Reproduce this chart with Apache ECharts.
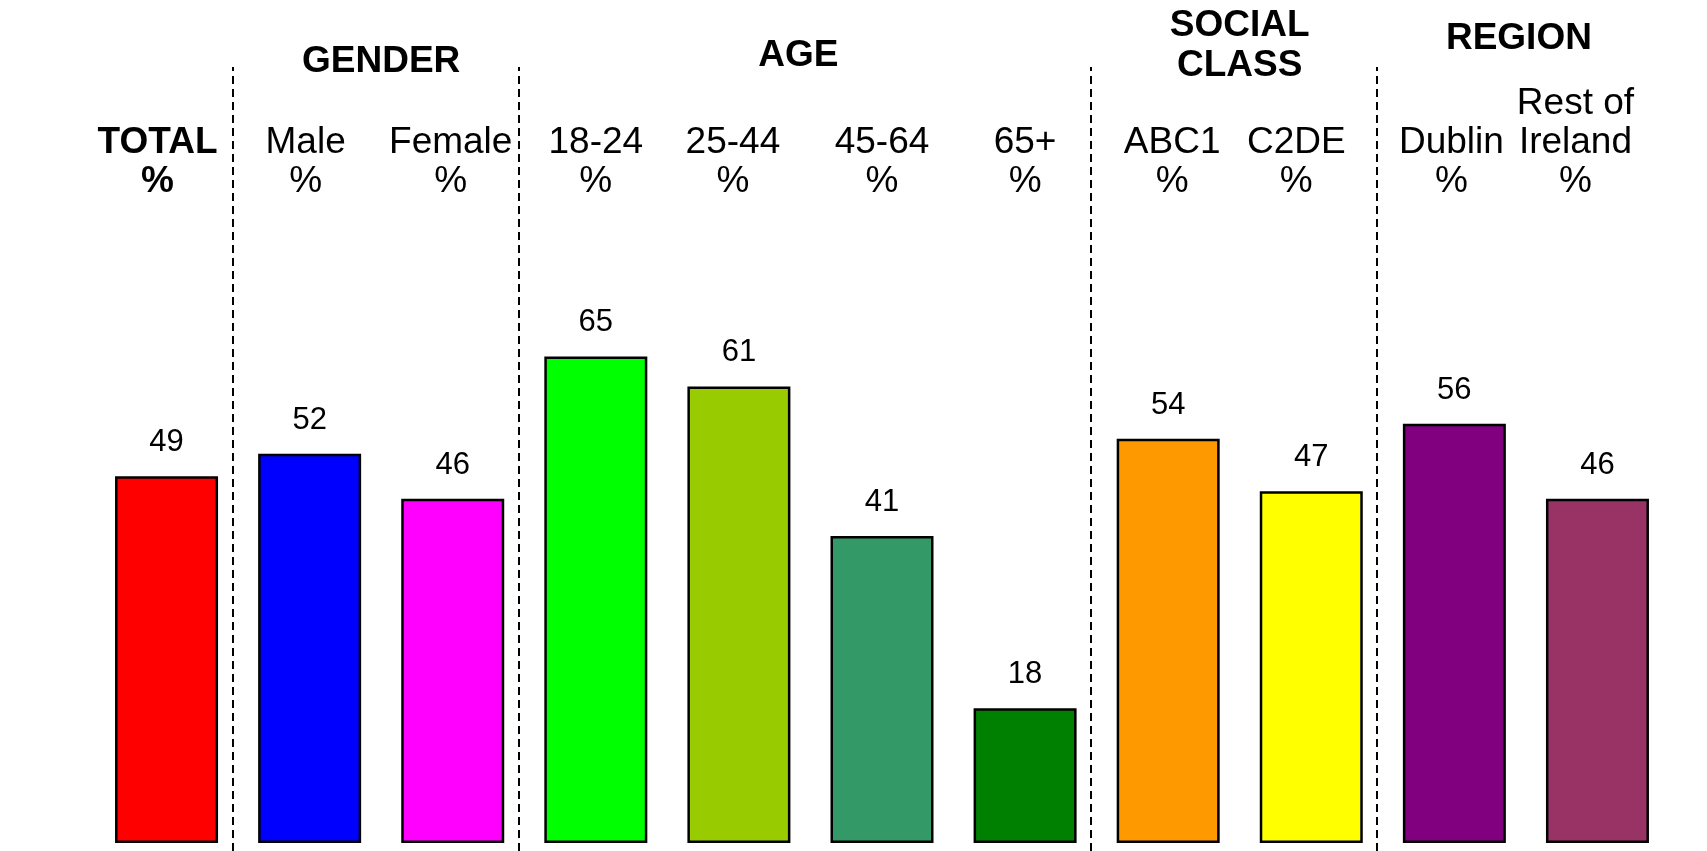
<!DOCTYPE html>
<html>
<head>
<meta charset="utf-8">
<title>Survey results by demographic</title>
<script src="https://cdn.jsdelivr.net/npm/echarts@6/dist/echarts.min.js"></script>
<style>
  html, body { margin: 0; padding: 0; background: #fff; }
  #chart { width: 1707px; height: 851px; }
</style>
</head>
<body>
<div id="chart"></div>
<script>
// data
const categories = ['TOTAL\n%', 'Male\n%', 'Female\n%', '18-24\n%', '25-44\n%', '45-64\n%', '65+\n%', 'ABC1\n%', 'C2DE\n%', 'Dublin\n%', 'Rest of\nIreland\n%']
const values = [49, 52, 46, 65, 61, 41, 18, 54, 47, 56, 46]
const barColors = ['#ff0000', '#0000ff', '#ff00ff', '#00ff00', '#99cc00', '#339966', '#008000', '#ff9900', '#ffff00', '#800080', '#993366']
const groupNames = ['GENDER', 'AGE', 'SOCIAL\nCLASS', 'REGION']
const groupFirst = [1, 3, 7, 9]
const groupLast = [2, 6, 8, 10]
const separatorsAfter = [0, 2, 6, 8]

// layout tweaks (pixels)
const FONT = '"Liberation Sans", Arial, Helvetica, sans-serif'
const labelNudge = [-9, -4, -2, 0, -6, 0, 0, 4, -15, -3, -22]
const headerY = [62, 56, 46, 39]
const headerDx = [0, -12, 0, -7]
const sepShift = -0.045

const rich = {}
categories.forEach((c, i) => {
  const n = labelNudge[i]
  rich['c' + i] = {
    fontSize: 37,
    lineHeight: 39,
    fontFamily: FONT,
    color: '#000',
    fontWeight: i === 0 ? 'bold' : 'normal',
    padding: [0, n < 0 ? -2 * n : 0, 0, n > 0 ? 2 * n : 0]
  }
})

const chart = echarts.init(document.getElementById('chart'))

const option = {
  animation: false,
  backgroundColor: '#fff',
  grid: {
    left: 95,
    right: 38,
    top: 67,
    bottom: 0,
    outerBoundsMode: 'none'
  },
  xAxis: [
    {
      type: 'category',
      data: categories,
      position: 'top',
      offset: -134,
      axisLine: { show: false },
      axisTick: { show: false },
      splitLine: { show: false },
      axisLabel: {
        interval: 0,
        margin: 0,
        formatter: (value, index) => value.split('\n').map(s => `{c${index}|${s}}`).join('\n'),
        rich: rich
      }
    },
    {
      type: 'value',
      min: -0.5,
      max: 10.5,
      show: false
    }
  ],
  yAxis: {
    type: 'value',
    min: -1.07,
    max: 103.67,
    show: false
  },
  series: [
    {
      type: 'bar',
      xAxisIndex: 0,
      barWidth: 103,
      data: values.map((v, i) => ({ value: v, itemStyle: { color: barColors[i] } })),
      itemStyle: { borderColor: '#000', borderWidth: 2.5 },
      label: {
        show: true,
        position: 'top',
        distance: 18,
        fontSize: 31,
        fontFamily: FONT,
        color: '#000'
      }
    },
    {
      type: 'line',
      xAxisIndex: 1,
      data: [],
      markLine: {
        silent: true,
        symbol: ['none', 'none'],
        label: { show: false },
        lineStyle: { color: '#000', type: [8, 5], width: 2 },
        data: separatorsAfter.map(i => ({ xAxis: i + 0.5 + sepShift }))
      }
    }
  ]
}

chart.setOption(option)

// group headers above the category labels
const headers = groupNames.map((name, g) => {
  const x = chart.convertToPixel({ xAxisIndex: 1 }, (groupFirst[g] + groupLast[g]) / 2)
  return {
    type: 'text',
    x: x + headerDx[g],
    y: headerY[g],
    style: {
      text: name,
      fontSize: 37,
      fontWeight: 'bold',
      fontFamily: FONT,
      lineHeight: 40,
      align: 'center',
      verticalAlign: 'middle',
      fill: '#000'
    }
  }
})
chart.setOption({ graphic: headers })
</script>
</body>
</html>
